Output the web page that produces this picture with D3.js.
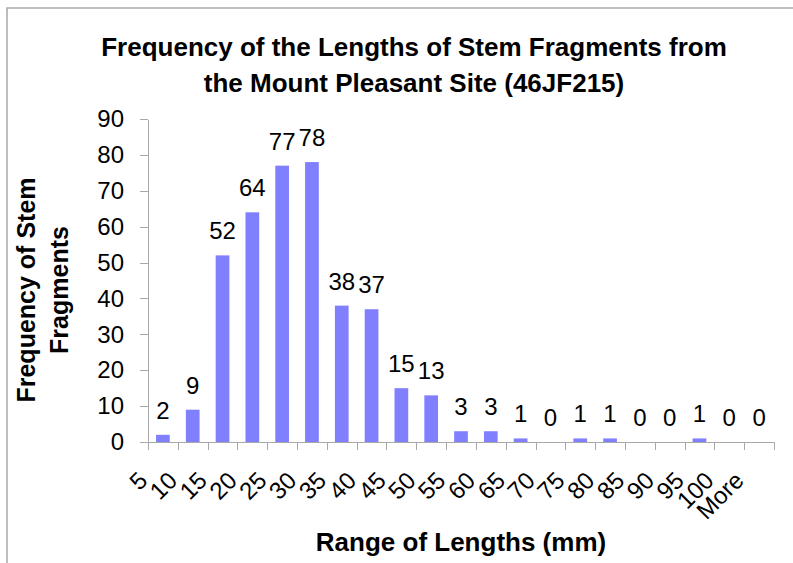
<!DOCTYPE html>
<html>
<head>
<meta charset="utf-8">
<script src="https://cdn.jsdelivr.net/npm/d3@7"></script>
<style>
  body { margin: 0; background: #fff; }
  svg { display: block; }
  text { font-family: "Liberation Sans", Arial, sans-serif; fill: #000; }
</style>
</head>
<body>
<svg id="chart"></svg>
<script>
// data
const categories = ["5", "10", "15", "20", "25", "30", "35", "40", "45", "50",
  "55", "60", "65", "70", "75", "80", "85", "90", "95", "100", "More"];
const counts = [2, 9, 52, 64, 77, 78, 38, 37, 15, 13, 3, 3, 1, 0, 1, 1, 0, 0, 1, 0, 0];
const yTicks = [0, 10, 20, 30, 40, 50, 60, 70, 80, 90];
const titleLines = ["Frequency of the Lengths of Stem Fragments from",
  "the Mount Pleasant Site (46JF215)"];
const yTitleLines = ["Frequency of Stem", "Fragments"];
const xTitle = "Range of Lengths (mm)";

const width = 793;
const height = 563;
const margin = { left: 148, right: 19, top: 119, bottom: 121 };

const innerWidth  = width  - margin.left - margin.right;
const innerHeight = height - margin.top  - margin.bottom;

const svg = d3.select("#chart")
  .attr("width", width)
  .attr("height", height)
  .attr("viewBox", `0 0 ${width} ${height}`);

// outer frame (only top and left edges are visible)
svg.append("rect")
  .attr("x", 7)
  .attr("y", 8)
  .attr("width", 900)
  .attr("height", 700)
  .attr("fill", "none")
  .attr("stroke", "#a8a8a8")
  .attr("stroke-width", 1.5);

// title
svg.selectAll(".title")
  .data(titleLines)
  .enter()
  .append("text")
  .attr("class", "title")
  .attr("x", 414)
  .attr("y", (d, i) => 56 + i * 36)
  .attr("text-anchor", "middle")
  .style("font-weight", "bold")
  .style("font-size", "26px")
  .text(d => d);

const g = svg.append("g")
  .attr("transform", `translate(${margin.left},${margin.top})`);

const x = d3.scaleBand()
  .domain(categories)
  .range([0, innerWidth])
  .paddingInner(0.54)
  .paddingOuter(0.27);

// category boundaries for the tick marks
const xb = d3.scaleLinear()
  .domain([0, categories.length])
  .range([0, innerWidth]);

const y = d3.scaleLinear()
  .domain([0, 90])
  .range([innerHeight, 0]);

// y axis
const yAxis = g.append("g")
  .call(d3.axisLeft(y)
    .tickValues(yTicks)
    .tickSize(8)
    .tickSizeOuter(0)
    .tickPadding(16));

yAxis.selectAll("text")
  .style("font-size", "24px")
  .style("font-family", "\"Liberation Sans\", Arial, sans-serif");

// x axis (ticks between categories)
g.append("g")
  .attr("transform", `translate(0,${innerHeight})`)
  .call(d3.axisBottom(xb)
    .tickValues(d3.range(categories.length + 1))
    .tickSize(8)
    .tickSizeOuter(0)
    .tickFormat(""));

g.selectAll(".domain, .tick line")
  .attr("stroke", "#a8a8a8")
  .attr("shape-rendering", "crispEdges");

// bars
g.selectAll(".bar")
  .data(counts)
  .enter()
  .append("rect")
  .attr("class", "bar")
  .attr("x", (d, i) => x(categories[i]))
  .attr("y", d => y(d))
  .attr("width", x.bandwidth())
  .attr("height", d => innerHeight - y(d))
  .attr("fill", "#8080ff");

// value labels
g.selectAll(".value")
  .data(counts)
  .enter()
  .append("text")
  .attr("class", "value")
  .attr("x", (d, i) => x(categories[i]) + x.bandwidth() / 2)
  .attr("y", d => y(d) - 16)
  .attr("text-anchor", "middle")
  .style("font-size", "24px")
  .text(d => d);

// rotated category labels
g.selectAll(".cat")
  .data(categories)
  .enter()
  .append("text")
  .attr("class", "cat")
  .attr("transform", d =>
    `translate(${x(d) + x.bandwidth() / 2 - 14},${innerHeight + 40}) rotate(-45)`)
  .attr("text-anchor", "end")
  .style("font-size", "24px")
  .text(d => d);

// axis titles
svg.append("text")
  .attr("x", margin.left + innerWidth / 2)
  .attr("y", 551)
  .attr("text-anchor", "middle")
  .style("font-weight", "bold")
  .style("font-size", "26px")
  .text(xTitle);

svg.selectAll(".ytitle")
  .data(yTitleLines)
  .enter()
  .append("text")
  .attr("class", "ytitle")
  .attr("transform", (d, i) => `translate(${35 + i * 33},290) rotate(-90)`)
  .attr("text-anchor", "middle")
  .style("font-weight", "bold")
  .style("font-size", "25px")
  .text(d => d);
</script>
</body>
</html>
